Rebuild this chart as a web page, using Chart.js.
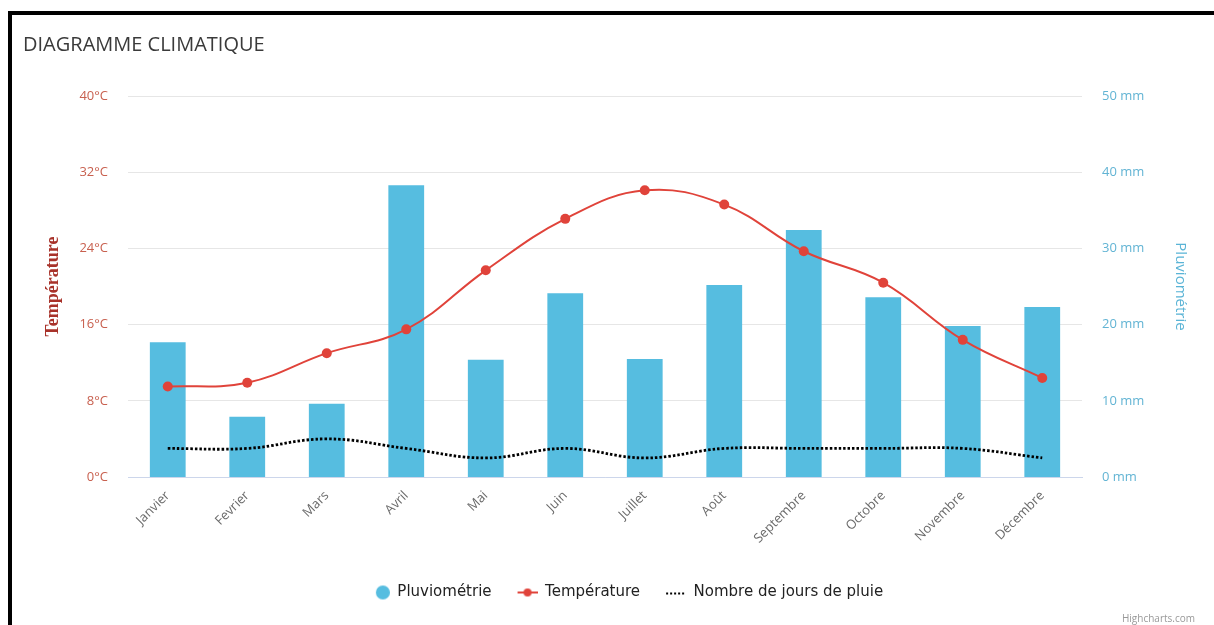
<!DOCTYPE html>
<html>
<head>
<meta charset="utf-8">
<script src="https://cdn.jsdelivr.net/npm/chart.js@4"></script>
<style>
  body { margin: 0; background: #fff; }
  #frame {
    position: absolute; left: 8px; top: 11px; width: 1210px; height: 620px;
    border-top: 4px solid #000; border-left: 4px solid #000;
  }
  #wrap { position: absolute; left: 12px; top: 15px; width: 1202px; height: 610px; }
  #credit {
    position: absolute; right: 19px; top: 611px;
    font: 10px "Open Sans", sans-serif; color: #999;
  }
</style>
</head>
<body>
<div id="frame"></div>
<div id="wrap"><canvas id="climateChart"></canvas></div>
<div id="credit">Highcharts.com</div>
<script>
// values
const months = ['Janvier', 'Fevrier', 'Mars', 'Avril', 'Mai', 'Juin', 'Juillet', 'Août', 'Septembre', 'Octobre', 'Novembre', 'Décembre'];
const rainMm = [17.7, 7.9, 9.6, 38.3, 15.4, 24.1, 15.5, 25.2, 32.4, 23.6, 19.8, 22.3];
const tempC = [9.5, 9.9, 13.0, 15.5, 21.7, 27.1, 30.1, 28.6, 23.7, 20.4, 14.4, 10.4];
const rainDays = [3, 3, 4, 3, 2, 3, 2, 3, 3, 3, 3, 2];
const legendOrder = ['Pluviométrie', 'Température', 'Nombre de jours de pluie'];

const BLUE = '#56bde0';
const RED = '#e0433a';

// legend icons: 36px wide, icon drawn on the right so items get some space between them
function legendIcon(kind) {
  const c = document.createElement('canvas');
  c.width = 36; c.height = 16;
  const g = c.getContext('2d');
  if (kind === 'bar') {
    g.fillStyle = BLUE;
    g.beginPath(); g.arc(29, 8, 7, 0, Math.PI * 2); g.fill();
  } else if (kind === 'temp') {
    g.strokeStyle = RED; g.lineWidth = 2;
    g.beginPath(); g.moveTo(16, 8); g.lineTo(36, 8); g.stroke();
    g.fillStyle = RED;
    g.beginPath(); g.arc(26, 8, 4, 0, Math.PI * 2); g.fill();
  } else {
    g.strokeStyle = '#000'; g.lineWidth = 2;
    g.setLineDash([2, 2]);
    g.beginPath(); g.moveTo(16, 9); g.lineTo(36, 9); g.stroke();
  }
  return c;
}
const icons = {
  'Pluviométrie': legendIcon('bar'),
  'Température': legendIcon('temp'),
  'Nombre de jours de pluie': legendIcon('days')
};

const ctx = document.getElementById('climateChart').getContext('2d');
const climateChart = new Chart(ctx, {
  type: 'bar',
  data: {
    labels: months,
    datasets: [
      {
        type: 'line',
        label: 'Température',
        data: tempC,
        yAxisID: 'yTemp',
        borderColor: RED,
        backgroundColor: RED,
        borderWidth: 2,
        pointRadius: 5,
        pointBorderWidth: 0,
        pointStyle: 'circle',
        tension: 0.4,
        order: 1
      },
      {
        type: 'line',
        label: 'Nombre de jours de pluie',
        data: rainDays,
        yAxisID: 'yTemp',
        borderColor: '#000',
        borderWidth: 2.8,
        borderDash: [2.5, 2],
        pointRadius: 0,
        tension: 0.4,
        order: 2
      },
      {
        label: 'Pluviométrie',
        data: rainMm,
        yAxisID: 'yRain',
        backgroundColor: BLUE,
        barPercentage: 0.45,
        categoryPercentage: 1,
        order: 3
      }
    ]
  },
  options: {
    responsive: true,
    maintainAspectRatio: false,
    animation: false,
    layout: { padding: { left: 11, right: 0, top: 0, bottom: 15 } },
    plugins: {
      title: {
        display: true,
        text: 'DIAGRAMME CLIMATIQUE',
        align: 'start',
        color: '#3a3a3a',
        font: { family: 'Open Sans', size: 20, weight: 'normal' },
        padding: { top: 18, bottom: 39 }
      },
      legend: {
        position: 'bottom',
        labels: {
          usePointStyle: true,
          pointStyleWidth: 36,
          padding: 10,
          color: '#222',
          font: { family: 'DejaVu Sans', size: 15, weight: 'normal' },
          generateLabels: (chart) => {
            const items = Chart.defaults.plugins.legend.labels.generateLabels(chart);
            items.forEach(it => { it.pointStyle = icons[it.text]; });
            return items;
          },
          sort: (a, b) => legendOrder.indexOf(a.text) - legendOrder.indexOf(b.text)
        }
      },
      tooltip: { enabled: false }
    },
    scales: {
      x: {
        grid: { display: false },
        border: { color: '#ccd6eb' },
        ticks: {
          minRotation: 45, maxRotation: 45,
          color: '#6a6a6a',
          font: { family: 'Open Sans', size: 13 }
        },
        afterFit: (scale) => { scale.height = 98; }
      },
      yTemp: {
        position: 'left',
        min: 0, max: 40,
        ticks: {
          stepSize: 8,
          padding: 20,
          color: '#c8604f',
          font: { family: 'Open Sans', size: 13 },
          callback: (v) => v + '°C'
        },
        grid: { color: '#e6e6e6', drawTicks: false },
        border: { display: false },
        title: {
          display: true,
          text: 'Température',
          color: '#a8322a',
          font: { family: 'Liberation Serif', size: 18, weight: 'bold' },
          padding: { top: 20, bottom: 0 }
        },
        afterFit: (scale) => { scale.width = 105; }
      },
      yRain: {
        position: 'right',
        min: 0, max: 50,
        ticks: {
          stepSize: 10,
          padding: 20,
          color: '#62b4d4',
          font: { family: 'Open Sans', size: 13 },
          callback: (v) => v + ' mm'
        },
        grid: { display: false, drawTicks: false },
        border: { display: false },
        title: {
          display: true,
          text: 'Pluviométrie',
          color: '#5ab4d6',
          font: { family: 'Open Sans', size: 15 },
          padding: { top: 25, bottom: 0 }
        },
        afterFit: (scale) => { scale.width = 132; }
      }
    }
  }
});
</script>
</body>
</html>
